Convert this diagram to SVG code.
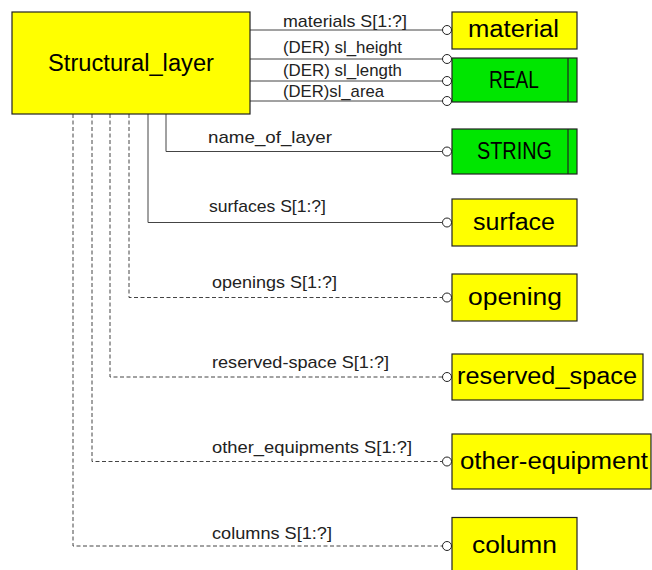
<svg xmlns="http://www.w3.org/2000/svg" width="652" height="570" viewBox="0 0 652 570">
<style>
.box{stroke:#222;stroke-width:1.2}
.ent{fill:#ffff00}
.typ{fill:#00e600}
.nt{font-family:"Liberation Sans",Arial,sans-serif;font-size:23px;fill:#000}
.lb{font-family:"Liberation Sans",Arial,sans-serif;font-size:17px;fill:#222}
.ln{fill:none;stroke:#444;stroke-width:1}
.dl{fill:none;stroke:#444;stroke-width:1;stroke-dasharray:4 2.5}
.ci{fill:#fff;stroke:#222;stroke-width:1}
</style>
<rect width="652" height="570" fill="#fff"/>
<g id="connectors">
<path class="ln" d="M250,30 H442.5"/>
<path class="ln" d="M250,59 H442.5"/>
<path class="ln" d="M250,81 H442.5"/>
<path class="ln" d="M250,101 H442.5"/>
<path class="ln" d="M166,114 V151.5 H442.5"/>
<path class="ln" d="M148,114 V222.5 H442.5"/>
<path class="dl" d="M129,114 V297.5 H442.5"/>
<path class="dl" d="M110,114 V377 H442.5"/>
<path class="dl" d="M92,114 V461.5 H442.5"/>
<path class="dl" d="M73,114 V546 H442.5"/>
<circle class="ci" cx="447" cy="30" r="4.5"/>
<circle class="ci" cx="447" cy="59" r="4.5"/>
<circle class="ci" cx="447" cy="81" r="4.5"/>
<circle class="ci" cx="447" cy="101" r="4.5"/>
<circle class="ci" cx="447" cy="151.5" r="4.5"/>
<circle class="ci" cx="447" cy="222.5" r="4.5"/>
<circle class="ci" cx="447" cy="297.5" r="4.5"/>
<circle class="ci" cx="447" cy="377" r="4.5"/>
<circle class="ci" cx="447" cy="461.5" r="4.5"/>
<circle class="ci" cx="447" cy="546" r="4.5"/>
<text class="lb" x="283" y="27" textLength="124" lengthAdjust="spacingAndGlyphs">materials S[1:?]</text>
<text class="lb" x="283" y="53" textLength="119" lengthAdjust="spacingAndGlyphs">(DER) sl_height</text>
<text class="lb" x="283" y="76" textLength="119" lengthAdjust="spacingAndGlyphs">(DER) sl_length</text>
<text class="lb" x="283" y="97" textLength="101" lengthAdjust="spacingAndGlyphs">(DER)sl_area</text>
<text class="lb" x="208" y="143" textLength="124" lengthAdjust="spacingAndGlyphs">name_of_layer</text>
<text class="lb" x="209" y="212" textLength="117" lengthAdjust="spacingAndGlyphs">surfaces S[1:?]</text>
<text class="lb" x="212" y="288" textLength="125" lengthAdjust="spacingAndGlyphs">openings S[1:?]</text>
<text class="lb" x="212" y="368" textLength="177" lengthAdjust="spacingAndGlyphs">reserved-space S[1:?]</text>
<text class="lb" x="212" y="453" textLength="200" lengthAdjust="spacingAndGlyphs">other_equipments S[1:?]</text>
<text class="lb" x="212" y="539" textLength="120" lengthAdjust="spacingAndGlyphs">columns S[1:?]</text>
</g>
<g id="Structural_layer">
<rect class="box ent" x="12" y="12" width="238" height="102"/>
<text class="nt" x="48" y="71" font-size="24" textLength="166" lengthAdjust="spacingAndGlyphs">Structural_layer</text>
</g>
<g id="material">
<rect class="box ent" x="452" y="12" width="125" height="37"/>
<text class="nt" x="468" y="37" textLength="91" lengthAdjust="spacingAndGlyphs">material</text>
</g>
<g id="REAL">
<rect class="box typ" x="452" y="58" width="125" height="44"/>
<line class="box" x1="568" y1="58" x2="568" y2="102"/>
<text class="nt" x="489" y="88" textLength="50" lengthAdjust="spacingAndGlyphs">REAL</text>
</g>
<g id="STRING">
<rect class="box typ" x="452" y="129" width="125" height="45"/>
<line class="box" x1="568" y1="129" x2="568" y2="174"/>
<text class="nt" x="477" y="159" textLength="75" lengthAdjust="spacingAndGlyphs">STRING</text>
</g>
<g id="surface">
<rect class="box ent" x="452" y="199" width="125" height="47"/>
<text class="nt" x="473" y="230" textLength="82" lengthAdjust="spacingAndGlyphs">surface</text>
</g>
<g id="opening">
<rect class="box ent" x="452" y="274" width="125" height="47"/>
<text class="nt" x="468" y="305" textLength="94" lengthAdjust="spacingAndGlyphs">opening</text>
</g>
<g id="reserved_space">
<rect class="box ent" x="452" y="354" width="191" height="46"/>
<text class="nt" x="457" y="384" textLength="180" lengthAdjust="spacingAndGlyphs">reserved_space</text>
</g>
<g id="other-equipment">
<rect class="box ent" x="452" y="434" width="199" height="55"/>
<text class="nt" x="460" y="469" textLength="188" lengthAdjust="spacingAndGlyphs">other-equipment</text>
</g>
<g id="column">
<rect class="box ent" x="452" y="517.5" width="125" height="60"/>
<text class="nt" x="472" y="553" textLength="85" lengthAdjust="spacingAndGlyphs">column</text>
</g>
</svg>
